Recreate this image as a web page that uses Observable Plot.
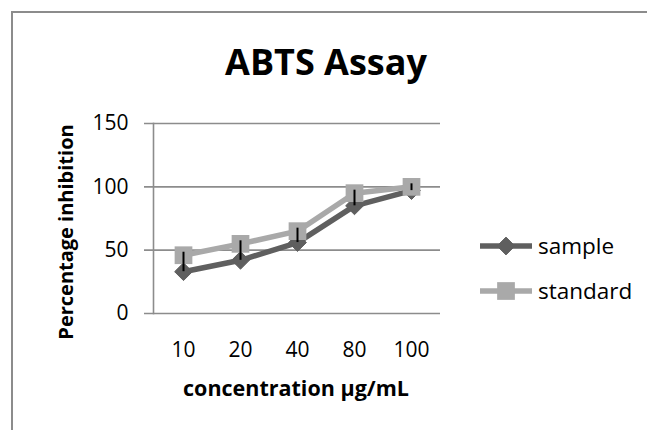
<!DOCTYPE html>
<html><head><meta charset="utf-8">
<script src="https://cdn.jsdelivr.net/npm/d3@7"></script>
<script src="https://cdn.jsdelivr.net/npm/@observablehq/plot@0.6"></script>
<style>
html,body{margin:0;padding:0;background:#fff;overflow:hidden;width:647px;height:430px;font-family:"Open Sans",sans-serif;}
#wrap{position:relative;width:647px;height:430px;overflow:hidden;}
#bl{position:absolute;left:11px;top:11px;width:1.5px;height:430px;background:#8c8c8c;}
#bt{position:absolute;left:11px;top:11px;width:636px;height:1.5px;background:#8c8c8c;}
#chart{position:absolute;left:0;top:0;}
.t{position:absolute;white-space:nowrap;color:#000;}
#title{left:0;width:652px;text-align:center;top:38px;font-weight:bold;font-size:36px;line-height:48px;}
#xlabel{left:0;width:592px;text-align:center;top:376px;font-weight:bold;font-size:21.5px;line-height:24px;}
#ylabel{left:66px;top:232px;font-weight:bold;font-size:20px;line-height:24px;transform:translate(-50%,-50%) rotate(-90deg);}
#legend{position:absolute;left:478px;top:223px;}
.lg{display:flex;align-items:center;height:45px;font-size:22.5px;}
.lg svg{margin-right:6px;}
</style></head>
<body><div id="wrap"><div id="bl"></div><div id="bt"></div><div id="chart"></div>
<div class="t" id="title">ABTS Assay</div>
<div class="t" id="ylabel">Percentage inhibition</div>
<div class="t" id="xlabel">concentration μg/mL</div>
<div id="legend"></div>
</div>
<script>
const concentrations = ["10", "20", "40", "80", "100"];
const sample = [33, 42, 56, 85, 97];
const standard = [46, 55, 65, 95, 100];
const yTicks = [0, 50, 100, 150];
const seriesNames = ["sample", "standard"];
const seriesColors = ["#5f5f5f", "#a9a9a9"];

const sData = concentrations.map((c, i) => ({c, v: sample[i]}));
const tData = concentrations.map((c, i) => ({c, v: standard[i]}));
const bars = concentrations.map((c, i) => ({c, lo: sample[i], hi: standard[i]}));

const plot = Plot.plot({
  width: 647, height: 430,
  marginLeft: 153, marginRight: 207, marginTop: 123, marginBottom: 117,
  style: {fontFamily: "'Open Sans', sans-serif", fontSize: "21px", color: "#000", background: "transparent", overflow: "visible"},
  x: {type: "point", domain: concentrations, padding: 0.5, label: null},
  y: {domain: [0, 150], label: null},
  marks: [
    Plot.ruleY(yTicks, {stroke: "#8c8c8c", strokeWidth: 1.6, strokeOpacity: 1, insetLeft: -9}),
    Plot.frame({anchor: "left", stroke: "#8c8c8c", strokeWidth: 1.6, strokeOpacity: 1}),
    Plot.axisY({ticks: yTicks, tickSize: 0, tickPadding: 25, label: null, fontSize: 21}),
    Plot.axisX({tickSize: 0, tickPadding: 29, label: null, fontSize: 21}),
    Plot.line(sData, {x: "c", y: "v", stroke: seriesColors[0], strokeWidth: 5.5, strokeLinejoin: "round"}),
    Plot.dot(sData, {x: "c", y: "v", symbol: "diamond2", r: 8, fill: seriesColors[0], stroke: seriesColors[0], strokeWidth: 1}),
    Plot.line(tData, {x: "c", y: "v", stroke: seriesColors[1], strokeWidth: 5.5, strokeLinejoin: "round"}),
    Plot.dot(tData, {x: "c", y: "v", symbol: "square", r: 10, fill: seriesColors[1]}),
    Plot.ruleX(bars, {x: "c", y1: "lo", y2: "hi", stroke: "#000", strokeWidth: 2, insetBottom: 3})
  ]
});
document.getElementById("chart").appendChild(plot);

const leg = d3.select("#legend");
seriesNames.forEach((name, i) => {
  const row = leg.append("div").attr("class", "lg");
  const svg = row.append("svg").attr("width", 54).attr("height", 24);
  svg.append("line").attr("x1", 2).attr("x2", 54).attr("y1", 12).attr("y2", 12)
    .attr("stroke", seriesColors[i]).attr("stroke-width", 5.5);
  svg.append("path").attr("transform", "translate(28,12)")
    .attr("d", d3.symbol(i === 0 ? d3.symbolDiamond2 : d3.symbolSquare, i === 0 ? 8*8*Math.PI : 10*10*Math.PI)())
    .attr("fill", seriesColors[i]).attr("stroke", i === 0 ? seriesColors[i] : "none");
  row.append("span").text(name);
});
</script></body></html>
